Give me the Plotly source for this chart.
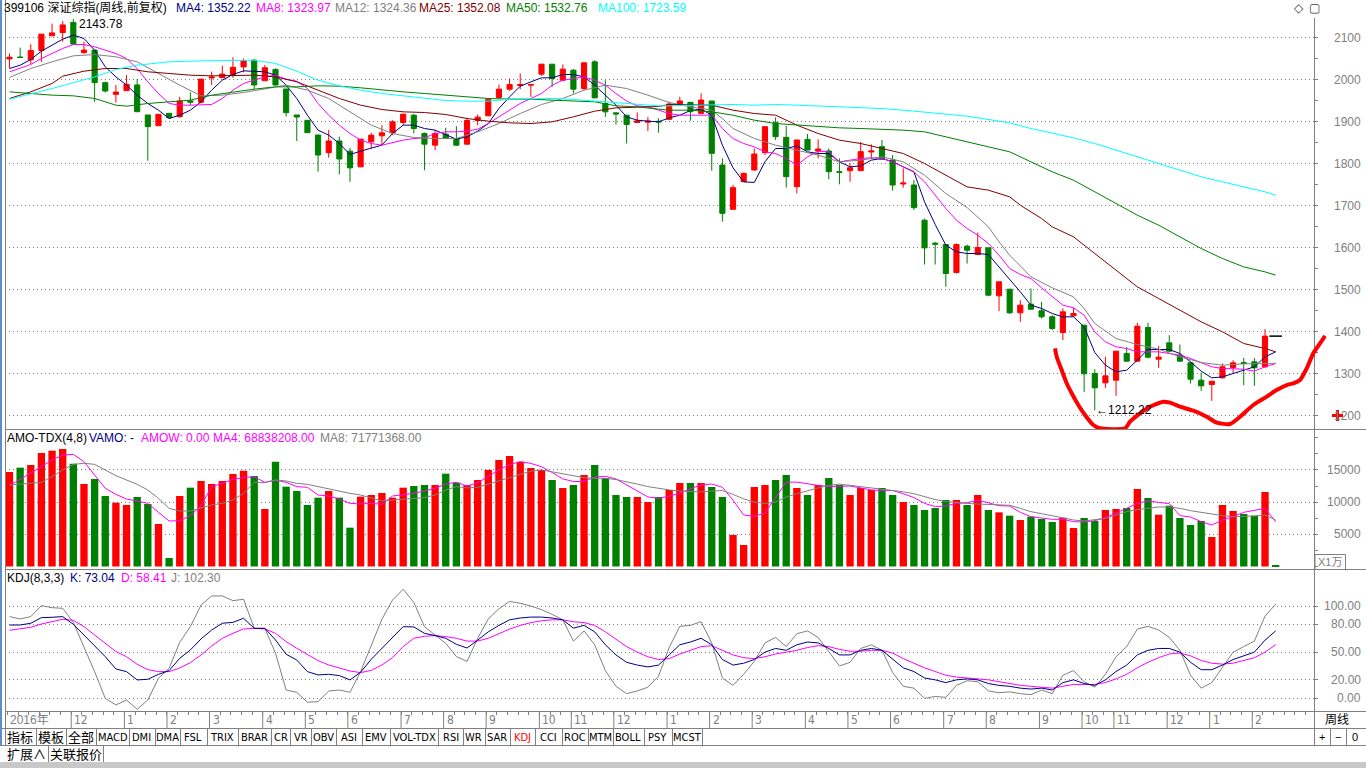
import plotly.graph_objects as go

W, H = 1366, 768
RED, GREEN, NAVY, MAGENTA, GREY, MAROON, CYAN = "#FF0000", "#008000", "#000080", "#FF00FF", "#808080", "#800000", "#00FFFF"

# ---------------- data (weekly, index 0 = mid Oct 2016) ----------------
OPEN = [2049, 2053.5, 2047, 2069, 2104, 2112, 2136, 2064, 2070, 1992.5,
        1964.7, 1973.4, 1987, 1915.5, 1890, 1919.4, 1911.5, 1949, 1946, 2003.6,
        2004.4, 2012, 2030, 2046, 1997, 2024, 1977.4, 1915.5, 1902.8, 1867.9,
        1825.8, 1853.6, 1829.4, 1792, 1851.6, 1865.9, 1873, 1897.6, 1915, 1871.4,
        1843.7, 1869.8, 1859.5, 1846, 1902.4, 1913.5, 1957, 1977, 1985.7, 1986.5,
        2012.7, 2036.5, 1998.4, 2022.2, 1978.6, 2042, 1942.9, 1920.6, 1915, 1897.6,
        1898.4, 1900.5, 1905.2, 1941.7, 1945.6, 1919.4, 1948.8, 1796.4, 1690.9, 1756.7,
        1784.5, 1825.8, 1897.2, 1862.3, 1744.8, 1857.5, 1829.8, 1829.8, 1780.6, 1782.9,
        1782.9, 1827.4, 1840, 1808.3, 1751.2, 1748.8, 1665, 1610.3, 1607.1, 1540.5,
        1603.2, 1583.3, 1599.2, 1484.9, 1500.8, 1444.4, 1465, 1449.2, 1435, 1397.6,
        1437.3, 1415.1, 1300, 1277.8, 1284.1, 1347.6, 1329.4, 1409.5, 1334.1, 1373,
        1343.7, 1325.4, 1284.1, 1273.8, 1289.7, 1314.3, 1326, 1327.8, 1315.9]
HIGH = [2062, 2076, 2084, 2108, 2133, 2139, 2143.78, 2090, 2070, 1995,
        1987, 2010.7, 2001, 1915.5, 1917, 1919.4, 1959, 1969.5, 2001, 2018.7,
        2033, 2052.8, 2050, 2048.8, 2034.5, 2026.6, 1977.4, 1915.5, 1903, 1868,
        1879.8, 1864, 1837, 1858, 1873, 1891.3, 1903, 1917.5, 1918.3, 1873.8,
        1879.4, 1885, 1889, 1908.7, 1916.7, 1954.8, 1988, 2002.4, 2014.3, 1988,
        2036.5, 2036.5, 2035.7, 2024.6, 2042, 2046, 1998.4, 1920.6, 1915, 1921.4,
        1911, 1907.5, 1947.2, 1959, 1945.6, 1967, 1948.8, 1812.3, 1748.8, 1778,
        1836, 1887.7, 1910, 1889.3, 1856, 1870.2, 1857.5, 1836, 1812.3, 1800.4,
        1851.2, 1845.6, 1856, 1820.2, 1788.5, 1760.7, 1669, 1613.5, 1607.1, 1609.5,
        1607, 1635.7, 1599.2, 1518.3, 1500.8, 1474.6, 1502.4, 1470.6, 1438.9, 1454.8,
        1456.3, 1415.1, 1310.3, 1339.7, 1353.2, 1362.7, 1420.6, 1420.6, 1365.1, 1391.3,
        1369, 1327.8, 1302.4, 1281.7, 1323.8, 1331.7, 1337.3, 1337, 1405.6]
LOW = [2027, 2052, 2037, 2042, 2104, 2090, 2083, 2061, 1947, 1969,
       1945, 1973, 1922, 1806.7, 1890, 1907.5, 1909, 1939, 1943, 1987,
       2003, 2004, 2017, 1977, 1997, 1985, 1911.5, 1853.6, 1873, 1780.5,
       1813.9, 1774.2, 1756.3, 1792, 1835.7, 1843.7, 1867.5, 1891.3, 1871.4, 1784,
       1831.7, 1858, 1842, 1846, 1891.3, 1913.5, 1954.8, 1973, 1977, 1958.7,
       2008.7, 1982.5, 1996.8, 1966.7, 1974.6, 1955, 1911, 1892.9, 1847.6, 1897.6,
       1877, 1873.4, 1905, 1939.3, 1902, 1918, 1782.9, 1661.5, 1690.9, 1756.7,
       1783, 1820.2, 1856, 1742.5, 1729, 1832, 1812.3, 1762.3, 1750.4, 1756.7,
       1782.9, 1812.3, 1809.9, 1735.3, 1742.9, 1689.3, 1559.5, 1559.5, 1506.3, 1538,
       1561.9, 1583, 1485, 1448.4, 1442, 1423, 1451.6, 1431, 1403.2, 1379.4,
       1435, 1256.3, 1212.22, 1265.9, 1246.8, 1328, 1328, 1335.7, 1313.5, 1351.6,
       1328, 1276.2, 1258.7, 1234.9, 1288, 1300, 1272.2, 1270.6, 1313.5]
CLOSE = [2053, 2052.5, 2069, 2108, 2111, 2130, 2084.5, 2070, 1992.5, 1972.6,
         1970, 1988.5, 1923.4, 1887.7, 1917, 1909, 1948.8, 1946, 2001, 2006,
         2013, 2029, 2044.8, 1987, 2028, 1987, 1921, 1910.7, 1873.4, 1820.2,
         1853.6, 1810.7, 1789.7, 1858, 1867.5, 1873, 1899.2, 1917.5, 1883.3, 1846,
         1871.4, 1859.5, 1843.7, 1902.4, 1910.3, 1953.2, 1977, 1988, 1988, 1988,
         2036.5, 2002.4, 2024.6, 1977, 2039.7, 1956.3, 1923, 1918, 1893, 1901.6,
         1900.8, 1899, 1941.7, 1948.8, 1923.4, 1951.2, 1824.2, 1681.3, 1742.5, 1776.6,
         1822.6, 1887.7, 1863.9, 1768.7, 1856, 1832.1, 1834.5, 1780.6, 1779, 1790,
         1828.2, 1829.8, 1809.9, 1748.8, 1753.6, 1694.8, 1599.2, 1608, 1538.1, 1607.1,
         1593.7, 1600, 1486.5, 1518.3, 1444.4, 1462.7, 1453.2, 1435, 1407.1, 1446.8,
         1442.9, 1299.2, 1265.9, 1294.4, 1353.2, 1329.4, 1412.7, 1338.9, 1338.9, 1353.2,
         1329.4, 1286.5, 1270.6, 1281.7, 1315.9, 1325.4, 1323.8, 1313.5, 1389]
WEEKS = list(range(len(OPEN)))
CUR_WEEK = [119]          # current (untraded) week
CUR_PRICE = [1389]
ALL_WEEKS = WEEKS + CUR_WEEK

MA4 = [2026.2, 2034.1, 2047.6, 2067.5, 2081.7, 2096, 2105.6, 2097.6, 2069.8, 2030.2,
       2006.3, 1986.5, 1962.7, 1942.9, 1927, 1907.1, 1915, 1927, 1946.8, 1974.6,
       1998.4, 2011.9, 2020.6, 2019.8, 2018.3, 2010.3, 1986.5, 1954.8, 1915, 1879.4,
       1867.5, 1847.6, 1821.4, 1829.4, 1837.3, 1843.7, 1871.4, 1891.3, 1891.3, 1883.3,
       1879.4, 1869, 1857.9, 1863.5, 1877, 1895.2, 1931, 1958.7, 1984.1, 1994.4,
       2004, 2004, 2011.9, 2011.9, 2006.3, 1986.5, 1962.7, 1938.9, 1911.1, 1903.2,
       1900.8, 1899.2, 1908.7, 1915, 1926.2, 1929.4, 1915, 1843.7, 1789.7, 1756.3,
       1754.8, 1804, 1835.7, 1835.7, 1842, 1827.8, 1823.8, 1823.8, 1804, 1792.1,
       1794.4, 1808, 1812, 1804, 1792, 1780.2, 1708.7, 1654.8, 1605.6, 1589.7,
       1585.7, 1585.7, 1583.3, 1554, 1526.2, 1494.4, 1462.7, 1454.8, 1442.9, 1434.9,
       1434.9, 1411.1, 1350, 1319.8, 1304, 1307.9, 1331.7, 1357.1, 1357.1, 1357.1,
       1347.6, 1327.8, 1305.6, 1289.7, 1292, 1300, 1307.9, 1315.9, 1339.7, 1351.6]
MA8 = [2018.3, 2026.2, 2035.7, 2050, 2061.9, 2073.8, 2083.3, 2083.3, 2077.8, 2069.8,
       2061.9, 2050, 2026.2, 1994.4, 1966.7, 1942.9, 1938.9, 1938.9, 1938.9, 1940.5,
       1954.8, 1974.6, 1990.5, 1998.4, 2006.3, 2010.3, 2000.8, 1996, 1978.6, 1942.9,
       1915, 1891.3, 1871.4, 1855.6, 1847.6, 1843.7, 1850, 1855.6, 1859.5, 1861.1,
       1871.4, 1875.4, 1875.4, 1877, 1881.7, 1895.2, 1911.1, 1927, 1942.9, 1954.8,
       1966.7, 1986.5, 1998.4, 2002.4, 2006.3, 1998.4, 1986.5, 1966.7, 1948.4, 1937.3,
       1934.9, 1927, 1919, 1915, 1915, 1915, 1915, 1883.3, 1859.5, 1847.6,
       1839.7, 1827.8, 1823.8, 1811.9, 1796, 1815.9, 1829.4, 1827.8, 1804, 1808,
       1811.9, 1813.5, 1811.9, 1804, 1792.1, 1780.2, 1756.3, 1724.6, 1692.9, 1665.1,
       1645.2, 1629.4, 1609.5, 1581.7, 1550, 1535.7, 1526.2, 1504, 1482.5, 1462.7,
       1456.3, 1438.9, 1399.2, 1375.4, 1363.5, 1359.5, 1351.6, 1351.6, 1351.6, 1347.6,
       1343.7, 1335.7, 1325.4, 1315.9, 1312, 1312, 1310.3, 1305.6, 1315.9, 1323.8]
MA12_X = [0, 2, 4, 6, 8, 10, 12, 14, 16, 18, 20, 22, 24, 26, 28, 30, 32, 34, 36, 38, 40, 42, 44, 46, 48, 50,
          52, 54, 56, 58, 60, 62, 64, 66, 67, 68, 70, 72, 74, 76, 78, 80, 82, 84, 86, 88, 90, 92, 93, 94,
          96, 98, 100, 101, 102, 104, 106, 108, 110, 112, 114, 116, 118, 119]
MA12_Y = [2004.8, 2026.2, 2042.1, 2056.3, 2059.5, 2054, 2042.1, 2014.3, 1986.5, 1961.1, 1962.7, 1969, 1978.6,
          1986.5, 1974.6, 1954.8, 1923, 1891.3, 1871.4, 1861.9, 1859.5, 1859.5, 1875.4, 1895.2, 1919, 1940.5,
          1954.8, 1974.6, 1986.5, 1978.6, 1962.7, 1945.2, 1934.9, 1927, 1907.1, 1883.3, 1859.5, 1843.7, 1831.7,
          1819.8, 1804, 1808, 1815.9, 1804, 1772.2, 1728.6, 1695.2, 1649.2, 1613.5, 1581.7, 1530.2, 1504,
          1482.5, 1454.8, 1419, 1383.3, 1369, 1357.9, 1339.7, 1326.2, 1319.8, 1323, 1323.8, 1324.4]
MA25_X = [0, 2, 4, 5, 7, 9, 11, 13, 15, 17, 19, 21, 23, 25, 27, 29, 31, 33, 35, 37, 39, 41, 43, 45, 47, 49,
          51, 53, 55, 57, 59, 61, 62, 64, 66, 68, 70, 72, 74, 76, 78, 80, 82, 84, 86, 88, 90, 92, 94, 95,
          97, 98, 100, 102, 104, 106, 108, 110, 112, 114, 116, 118, 119]
MA25_Y = [1954.8, 1970.6, 1990.5, 2007.9, 2019.8, 2026.2, 2026.2, 2018.3, 2014.3, 2010.3, 2008.7, 2010.3,
          2010.3, 2006.3, 1994.4, 1974.6, 1954.8, 1938.9, 1928.6, 1923, 1921.4, 1916.7, 1907.1, 1900.8,
          1896.8, 1895.2, 1899.2, 1911.1, 1924.6, 1932.5, 1934.9, 1935.7, 1940.5, 1940.5, 1938.9, 1927,
          1919, 1915, 1891.3, 1871.4, 1855.6, 1847.6, 1835.7, 1823.8, 1800, 1772.2, 1744.4, 1736.5, 1720.6,
          1700.8, 1669, 1649.2, 1625.4, 1585.7, 1546, 1506.3, 1478.6, 1450.8, 1423, 1399.2, 1371.4, 1359.5,
          1351.6]
MA50_X = [0, 2, 4, 6, 8, 10, 11, 13, 15, 17, 19, 21, 23, 25, 27, 29, 31, 33, 35, 37, 39, 41, 43, 45, 47, 49,
          51, 53, 55, 57, 59, 61, 62, 64, 66, 68, 70, 72, 74, 76, 78, 80, 82, 84, 86, 88, 90, 92, 94, 96,
          98, 100, 102, 104, 106, 108, 110, 112, 114, 116, 118, 119]
MA50_Y = [1970.6, 1966.7, 1962.7, 1961.1, 1954.8, 1938.9, 1936.5, 1942.9, 1946.8, 1950.8, 1962.7, 1970.6,
          1977, 1982.5, 1982.5, 1984.9, 1984.1, 1980.2, 1974.6, 1970.6, 1966.7, 1962.7, 1958.7, 1954.8,
          1953.2, 1953.2, 1950.8, 1949.2, 1946.8, 1937.3, 1934.9, 1929.4, 1927, 1927, 1923, 1915, 1903.2,
          1895.2, 1891.3, 1887.3, 1884.9, 1883.3, 1881.7, 1879.4, 1875.4, 1863.5, 1851.6, 1839.7, 1827.8,
          1804, 1780.2, 1760.3, 1732.5, 1704.8, 1677, 1653.2, 1625.4, 1597.6, 1573.8, 1553.8, 1542, 1534.1]
MA100_X = [0, 4, 8, 10, 12, 15, 18, 21, 23, 25, 27, 29, 31, 33, 35, 37, 39, 41, 43, 45, 47, 49, 51, 53, 55,
           57, 59, 61, 62, 64, 66, 68, 70, 72, 74, 76, 78, 80, 82, 84, 86, 88, 90, 92, 94, 96, 98, 100, 102,
           104, 106, 108, 110, 112, 114, 116, 118, 119]
MA100_Y = [1953.2, 1978.6, 2006.3, 2023.8, 2034.1, 2042.1, 2044.4, 2046, 2046, 2038.1, 2019.8, 1998.4,
           1984.9, 1974.6, 1966.7, 1961.1, 1954.8, 1950, 1948.4, 1948.4, 1953.2, 1954.8, 1954.8, 1952.4,
           1948.4, 1944.4, 1940.5, 1937.3, 1937.3, 1938.9, 1940.5, 1940.5, 1938.9, 1940.5, 1938.9, 1937.3,
           1934.9, 1933.3, 1930.9, 1927, 1923, 1917.5, 1912.7, 1905.6, 1896.8, 1883.3, 1873, 1861.1, 1847.6,
           1831.7, 1815.9, 1800, 1784.1, 1768.3, 1756.3, 1744.4, 1732.5, 1724.6]

# amount (x1万), index 0..119
VOLUME = [14674, 15347, 15761, 17624, 17987, 18246, 15968, 12811, 13587, 10947,
          9912, 9550, 10792, 9705, 6600, 1320, 10947, 12241, 13276, 12811,
          13276, 14363, 14881, 14053, 8929, 16279, 12397, 11724, 9550, 10688,
          11724, 10688, 6030, 10843, 11102, 11413, 10688, 12241, 12500, 12655,
          12655, 14415, 13018, 12660, 13430, 15000, 16540, 17160, 16230, 15300,
          15000, 13430, 12190, 12660, 14210, 15760, 13740, 11100, 10790, 10790,
          10020, 10790, 11880, 12970, 12970, 12970, 12350, 10790, 4890, 3340,
          12350, 12660, 13430, 14210, 12190, 11100, 12660, 13740, 12660, 11100,
          12190, 11880, 12190, 11100, 10020, 9550, 8770, 9080, 10330, 10330,
          9550, 11100, 8770, 8411, 7893, 7220, 7738, 7376, 6910, 7583,
          5978, 7531, 7065, 8773, 8929, 9084, 12034, 10636, 8049, 9446,
          7531, 6444, 7065, 4581, 9550, 8618, 8152, 7893, 11568, 100]
VOL_MA4 = [12552, 13500, 14467, 15502, 16537, 17313, 17417, 16279, 14208, 12138,
           11206, 10481, 10171, 9809, 8411, 7066, 7117, 7893, 9446, 12397,
           12914, 13535, 13794, 13949, 13069, 13432, 13069, 12397, 12293, 11102,
           10947, 10481, 9809, 9705, 9809, 9654, 10947, 11102, 11361, 11724,
           12138, 12811, 13069, 12500, 13000, 14000, 15000, 15800, 16300, 16000,
           15500, 14600, 13600, 13200, 13200, 13900, 14000, 13600, 12700, 11700,
           10800, 10600, 10900, 11400, 12100, 12700, 12800, 12300, 10300, 8000,
           7800, 8300, 10700, 13100, 13100, 12800, 12600, 12400, 12500, 12500,
           12200, 11900, 11800, 11800, 11300, 10700, 9800, 9300, 9400, 9800,
           9900, 10300, 9900, 9446, 9394, 8411, 7738, 7479, 7324, 7324,
           6962, 6910, 7117, 7583, 8256, 9032, 9808, 10170, 9964, 9757,
           7893, 7686, 6962, 6444, 7220, 7738, 8411, 8773, 9032, 6962]
VOL_MA8 = [12655, 12811, 12914, 13069, 13949, 14984, 15864, 16020, 15864, 14984,
           14104, 13432, 12759, 11879, 10585, 9032, 8618, 8618, 9136, 9550,
           9809, 10326, 11361, 13069, 13018, 13432, 13276, 12914, 12759, 12397,
           12035, 11620, 11361, 11102, 10585, 10171, 10326, 10481, 10585, 10688,
           11102, 11879, 12397, 12200, 12300, 12800, 13300, 13800, 14300, 14800,
           15000, 14700, 14300, 14000, 13800, 13700, 13700, 13500, 13200, 12800,
           12400, 12100, 11900, 11700, 11600, 11600, 11700, 11800, 11200, 10500,
           10000, 9800, 10000, 10800, 11300, 11800, 12200, 12600, 12800, 12600,
           12400, 12200, 12000, 11900, 11600, 11300, 10800, 10400, 10100, 9900,
           9800, 9700, 9600, 9550, 9498, 9032, 8515, 8204, 7893, 7479,
           7220, 7065, 7272, 7479, 7997, 8515, 8825, 9084, 9239, 9239,
           9032, 8670, 8411, 8101, 7893, 7738, 7738, 7841, 7997, 7220]

K = [79.4, 79.4, 81.3, 87.4, 87.8, 88.5, 80.2, 68.6, 57.8, 45.1, 31.8, 28.9, 19.9, 20.6, 26, 30, 43.3, 52.4,
     64.3, 74, 81.3, 82.3, 86.7, 75.8, 75.8, 63.2, 47.7, 41.5, 28.9, 25.3, 26, 24.6, 19.9, 28.2, 42.3, 54.2,
     66.8, 77.6, 77.3, 70.4, 67.9, 65, 58.5,
     54.5, 63, 72, 79, 85, 87, 88, 88, 87, 85, 76, 79, 72, 58, 47, 39, 36, 34, 36, 47, 58, 61, 65, 58, 42, 36,
     38, 42, 50, 54, 52, 58, 61, 60, 54, 47, 47, 52, 54, 52, 42, 33, 29, 22, 20, 17, 20, 21, 20, 16, 14, 13, 11,
     10, 11, 9, 17, 20, 16, 14, 20, 29, 36, 47, 52, 54, 54, 50, 39, 31, 31, 36, 42, 46, 50, 63, 73]
D = [73.7, 75.1, 76.9, 80.5, 83.1, 85.6, 84.5, 77.6, 68.6, 59.2, 50.6, 45.1, 36.8, 31.1, 28.9, 28.9, 32.9,
     38.6, 46.9, 56.7, 65, 70.4, 75.1, 75.8, 75.1, 70.4, 61.4, 54.2, 47.7, 40.8, 36.1, 33.2, 29.6, 27.8, 30.3,
     36.1, 44.1, 56, 65, 67.2, 67.9, 66.8, 65,
     62, 62, 65, 70, 75, 79, 82, 84, 85, 85, 83, 82, 79, 72, 64, 56, 50, 45, 42, 43, 48, 52, 56, 57, 52, 47, 44,
     43, 45, 48, 50, 52, 55, 57, 56, 53, 51, 51, 52, 52, 49, 43, 38, 33, 29, 25, 23, 22, 21, 20, 18, 16, 14, 13,
     12, 11, 13, 15, 15, 15, 17, 21, 26, 33, 39, 44, 48, 49, 46, 41, 38, 37, 38, 41, 44, 50, 58]
J = [88.5, 86, 88.5, 100.4, 98.2, 97.5, 82.3, 56, 28.9, 0, -7.2, -1.8, -11.9, -1.8, 21.7, 32.5, 60.7, 77.6,
     101, 110.9, 110.9, 105.8, 107.3, 75.8, 75.8, 48.8, 9, 6.5, -4.3, -3.6, 7.9, 9, 6.5, 28.9, 57.8, 85.6,
     106.5, 118.1, 104, 77.6, 68.6, 59.6, 45.1,
     40, 65, 86, 97, 105, 103, 100, 96, 91, 85, 62, 73, 58, 30, 13, 5, 8, 12, 24, 55, 78, 79, 83, 60, 22, 14,
     26, 40, 60, 66, 56, 70, 73, 66, 50, 35, 39, 54, 58, 52, 28, 13, 11, 0, 2, 1, 14, 19, 18, 8, 6, 7, 5, 4, 9,
     5, 25, 30, 18, 12, 26, 45, 56, 75, 78, 74, 66, 52, 25, 11, 17, 34, 50, 56, 62, 89, 102]

# hand-drawn red mark (week index, price)
CURVE_X = [98.26, 98.42, 98.89, 99.36, 99.83, 100.45, 101.08, 101.86, 102.49, 104.84, 105.31, 106.25, 107.19,
           108.44, 109.07, 110.01, 111.26, 112.52, 113.46, 114.71, 115.65, 116.9, 118.16, 119.09, 120.04,
           120.66, 121.29, 121.92, 122.54, 123.17, 123.64]
CURVE_Y = [1360, 1340, 1308.3, 1276.7, 1252.9, 1225, 1201.2, 1177.4, 1169.5, 1169.5, 1185.2, 1205.2, 1220.9,
           1232.9, 1230.5, 1220.9, 1211.4, 1197.1, 1182.9, 1179.8, 1197.1, 1225, 1244.8, 1260.7, 1272.6,
           1276.7, 1284.5, 1312.4, 1348.1, 1372, 1389.3]

PRICE_TICKS = [1200, 1300, 1400, 1500, 1600, 1700, 1800, 1900, 2000, 2100]
VOL_TICKS = [5000, 10000, 15000]
KDJ_TICKS = [0, 20, 50, 80, 100]
MONTH_WEEKS = [6, 11, 15, 19, 24, 28, 32, 37, 41, 45, 50, 53, 57, 62, 66, 70, 75, 79, 83, 88, 92, 97, 101, 104,
               109, 113, 117]
MONTH_NAMES = ["12", "1", "2", "3", "4", "5", "6", "7", "8", "9", "10", "11", "12", "1", "2", "3", "4", "5",
               "6", "7", "8", "9", "10", "11", "12", "1", "2"]
HIGH_LABEL = (6, 2143.78)
LOW_LABEL = (102, 1212.22)

# ---------------- geometry (pixel layout of the window) ----------------
X_PX0, X_STEP = 9.5, 10.64
L_PX, R_PX = 5, 1314
MAIN_T, MAIN_B = 18, 429
VOL_T, VOL_B = 429, 569
KDJ_T, KDJ_B = 569, 711


def wx(px):
    return (px - X_PX0) / X_STEP


def fx(px):
    return px / W


def fy(py):
    return 1 - py / H


def price_at(py):
    return 2100 - (py - 37.5) / 0.42


def vol_at(py):
    return (566.5 - py) * 5000 / 32.2


def kdj_at(py):
    return (698.3 - py) / 0.923


SANS = "Liberation Sans, Arial, sans-serif"
CJK = "Liberation Sans, Noto Sans CJK SC, sans-serif"
NARROW = "Liberation Sans Narrow, DejaVu Sans Condensed, Liberation Sans, sans-serif"

fig = go.Figure()

# ---- main panel ----
fig.add_trace(go.Candlestick(
    x=WEEKS, open=OPEN, high=HIGH, low=LOW, close=CLOSE, whiskerwidth=0,
    increasing=dict(line=dict(color=RED, width=1), fillcolor=RED),
    decreasing=dict(line=dict(color=GREEN, width=1), fillcolor=GREEN),
    xaxis="x", yaxis="y", hoverinfo="skip", showlegend=False))
for xs, ys, col in [(ALL_WEEKS, MA4, NAVY), (ALL_WEEKS, MA8, MAGENTA), (MA12_X, MA12_Y, GREY),
                    (MA25_X, MA25_Y, MAROON), (MA50_X, MA50_Y, GREEN), (MA100_X, MA100_Y, CYAN)]:
    fig.add_trace(go.Scatter(x=xs, y=ys, mode="lines", line=dict(color=col, width=1),
                             xaxis="x", yaxis="y", hoverinfo="skip", showlegend=False))
fig.add_trace(go.Scatter(x=CUR_WEEK, y=CUR_PRICE, mode="markers",
                         marker=dict(symbol="line-ew", size=9, line=dict(color="black", width=1.5)),
                         xaxis="x", yaxis="y", hoverinfo="skip", showlegend=False))
fig.add_trace(go.Scatter(x=CURVE_X, y=CURVE_Y, mode="lines",
                         line=dict(color=RED, width=4, shape="spline", smoothing=0.6),
                         xaxis="x4", yaxis="y4", hoverinfo="skip", showlegend=False))

# ---- amount panel ----
vol_colors = [RED if c > o else GREEN for o, c in zip(OPEN, CLOSE)] + [GREEN]
fig.add_trace(go.Bar(x=ALL_WEEKS, y=VOLUME, width=0.69, marker=dict(color=vol_colors, line=dict(width=0)),
                     xaxis="x2", yaxis="y2", hoverinfo="skip", showlegend=False))
for ys, col in [(VOL_MA4, MAGENTA), (VOL_MA8, GREY)]:
    fig.add_trace(go.Scatter(x=ALL_WEEKS, y=ys, mode="lines", line=dict(color=col, width=1),
                             xaxis="x2", yaxis="y2", hoverinfo="skip", showlegend=False))

# ---- KDJ panel ----
for ys, col in [(J, GREY), (D, MAGENTA), (K, NAVY)]:
    fig.add_trace(go.Scatter(x=ALL_WEEKS, y=ys, mode="lines", line=dict(color=col, width=1),
                             xaxis="x3", yaxis="y3", hoverinfo="skip", showlegend=False))

xdom = [fx(L_PX), fx(R_PX)]
xrng = [wx(L_PX), wx(R_PX)]
hidden_x = dict(showgrid=False, zeroline=False, showticklabels=False, ticks="", showline=False, fixedrange=True)
grid = dict(showgrid=True, gridcolor=GREY, griddash="1px,3px", gridwidth=1, zeroline=False,
            showticklabels=False, side="right", ticks="outside", ticklen=3, tickcolor=GREY,
            showline=True, linecolor=GREY, linewidth=1, fixedrange=True, tickmode="array")

fig.update_layout(
    width=W, height=H, autosize=False, margin=dict(l=0, r=0, t=0, b=0),
    paper_bgcolor="white", plot_bgcolor="rgba(0,0,0,0)", showlegend=False, boxgap=0.31,
    xaxis=dict(domain=xdom, range=xrng, anchor="y", rangeslider=dict(visible=False), **hidden_x),
    xaxis2=dict(domain=xdom, range=xrng, anchor="y2", **hidden_x),
    xaxis3=dict(domain=xdom, range=xrng, anchor="y3", showgrid=False, zeroline=False, showticklabels=False,
                ticks="outside", ticklen=3, tickcolor=GREY, tickmode="linear", tick0=-0.2, dtick=1,
                showline=False, fixedrange=True),
    xaxis4=dict(domain=[fx(L_PX), fx(1334)], range=[wx(L_PX), wx(1334)], anchor="y4", visible=False),
    yaxis=dict(domain=[fy(MAIN_B), fy(MAIN_T)], range=[price_at(MAIN_B), price_at(MAIN_T)], anchor="x",
               tickvals=PRICE_TICKS,
               minor=dict(tickmode="linear", tick0=1150, dtick=50, ticks="outside", ticklen=3,
                          tickcolor=GREY, showgrid=False), **grid),
    yaxis4=dict(domain=[fy(MAIN_B), fy(MAIN_T)], range=[price_at(MAIN_B), price_at(MAIN_T)], anchor="x4",
                visible=False),
    yaxis2=dict(domain=[fy(VOL_B), fy(VOL_T)], range=[vol_at(VOL_B), vol_at(VOL_T)], anchor="x2",
                tickvals=VOL_TICKS,
                minor=dict(tickmode="linear", tick0=0, dtick=2500, ticks="outside", ticklen=3,
                           tickcolor=GREY, showgrid=False), **grid),
    yaxis3=dict(domain=[fy(KDJ_B), fy(KDJ_T)], range=[kdj_at(KDJ_B), kdj_at(KDJ_T)], anchor="x3",
                tickvals=KDJ_TICKS, **grid),
)

shapes = []
ann = []


def line_px(x0, y0, x1, y1, color=GREY, width=1):
    shapes.append(dict(type="line", xref="paper", yref="paper", x0=fx(x0), y0=fy(y0), x1=fx(x1), y1=fy(y1),
                       line=dict(color=color, width=width), layer="above"))


def text_px(x, y, s, color="black", size=12, family=SANS, anchor="left"):
    ann.append(dict(xref="paper", yref="paper", x=fx(x), y=fy(y), text=s, showarrow=False,
                    xanchor=anchor, yanchor="middle", font=dict(color=color, size=size, family=family)))


# frame lines
line_px(L_PX, VOL_T + 0.5, W, VOL_T + 0.5)
line_px(L_PX, VOL_B + 0.5, W, VOL_B + 0.5)
line_px(L_PX, KDJ_B + 0.5, W, KDJ_B + 0.5)
line_px(0, 728.5, W, 728.5)
line_px(0, 745.5, W, 745.5)
line_px(R_PX + 0.5, 711, R_PX + 0.5, 745)
line_px(L_PX + 0.5, 0, L_PX + 0.5, 728)
line_px(1, 0, 1, 745, color="#5B8FD0", width=2)
shapes.append(dict(type="rect", xref="paper", yref="paper", x0=0, x1=1, y0=0, y1=fy(762),
                   fillcolor="#C8C8C8", line=dict(width=0)))

# title rows
text_px(2, 8, "399106 深证综指(周线,前复权)", family=CJK)
for x, s, col in [(174, "MA4: 1352.22", NAVY), (254, "MA8: 1323.97", MAGENTA), (333, "MA12: 1324.36", GREY),
                  (417, "MA25: 1352.08", MAROON), (504, "MA50: 1532.76", GREEN), (596, "MA100: 1723.59", CYAN)]:
    text_px(x, 8, s, col)
text_px(1292, 8, "◇", "#404040", 12)
text_px(1307, 8, "▢", "#404040", 12)
for x, s, col in [(5, "AMO-TDX(4,8)", "black"), (87, "VAMO: -", NAVY), (139, "AMOW: 0.00", MAGENTA),
                  (211, "MA4: 68838208.00", MAGENTA), (318, "MA8: 71771368.00", GREY)]:
    text_px(x, 437.5, s, col)
for x, s, col in [(5, "KDJ(8,3,3)", "black"), (68, "K: 73.04", NAVY), (119, "D: 58.41", MAGENTA),
                  (169, "J: 102.30", GREY)]:
    text_px(x, 577.5, s, col)

# right-hand tick labels
for v in PRICE_TICKS:
    ann.append(dict(xref="paper", yref="y", x=fx(1363), y=v, text=str(v), showarrow=False, xanchor="right",
                    yanchor="middle", font=dict(color=GREY, size=12, family=SANS)))
for v in VOL_TICKS:
    ann.append(dict(xref="paper", yref="y2", x=fx(1363), y=v, text=str(v), showarrow=False, xanchor="right",
                    yanchor="middle", font=dict(color=GREY, size=12, family=SANS)))
for v in KDJ_TICKS:
    ann.append(dict(xref="paper", yref="y3", x=fx(1363), y=v, text="%.2f" % v, showarrow=False,
                    xanchor="right", yanchor="middle", font=dict(color=GREY, size=12, family=SANS)))
shapes.append(dict(type="rect", xref="paper", yref="paper", x0=fx(1315), x1=fx(1345.5), y0=fy(569.5),
                   y1=fy(554.5), line=dict(color=GREY, width=1)))
text_px(1330, 562, "X1万", GREY, 11, CJK, "center")
# red cross marker at the right axis (drawn as two strokes)
line_px(1332, 415.5, 1343, 415.5, color=RED, width=3)
line_px(1337.5, 410, 1337.5, 421, color=RED, width=3)

# high / low labels
ann.append(dict(xref="x", yref="paper", x=HIGH_LABEL[0], y=fy(24), text="%.2f" % HIGH_LABEL[1],
                showarrow=False, xanchor="left", yanchor="middle", xshift=4,
                font=dict(color="black", size=12, family=SANS)))
ann.append(dict(xref="x", yref="y", x=LOW_LABEL[0], y=LOW_LABEL[1], text="←%.2f" % LOW_LABEL[1],
                showarrow=False, xanchor="left", yanchor="middle", xshift=-1,
                font=dict(color="black", size=12, family=SANS)))

# month axis row
text_px(8, 720, "2016年", GREY, 12, CJK)
for w, name in zip(MONTH_WEEKS, MONTH_NAMES):
    shapes.append(dict(type="line", xref="x3", yref="paper", x0=w - 0.2, x1=w - 0.2, y0=fy(711.5), y1=fy(728),
                       line=dict(color=GREY, width=1)))
    ann.append(dict(xref="x3", yref="paper", x=w - 0.2, y=fy(720), text=name, showarrow=False,
                    xanchor="left", yanchor="middle", xshift=1,
                    font=dict(color=GREY, size=12, family=NARROW)))
text_px(1337, 720, "周线", "black", 12, CJK, "center")

# tab bar
TAB_SEPS = [4.6, 35.8, 65.7, 96.4, 128.6, 155.2, 180, 206.6, 237.8, 270.9, 290.2, 311.3, 336, 361.8, 390.3,
            438.5, 462.8, 484.8, 509.6, 534.9, 562.5, 587.7, 612.9, 643.7, 671.7, 702.5]
TABS = ["指标", "模板", "全部", "MACD", "DMI", "DMA", "FSL", "TRIX", "BRAR", "CR", "VR", "OBV", "ASI", "EMV",
        "VOL-TDX", "RSI", "WR", "SAR", "KDJ", "CCI", "ROC", "MTM", "BOLL", "PSY", "MCST"]
for i, t in enumerate(TABS):
    cx = (TAB_SEPS[i] + TAB_SEPS[i + 1]) / 2
    cjk = i < 3
    text_px(cx, 737, t, RED if t == "KDJ" else "black", 13 if cjk else 11, CJK if cjk else NARROW, "center")
for s in TAB_SEPS:
    line_px(round(s) + 0.5, 728, round(s) + 0.5, 745)
for x in [1330.5, 1346.5]:
    line_px(x, 728, x, 745)
for x, s in [(1322, "+"), (1338, "−"), (1355, "0")]:
    text_px(x, 737, s, "black", 11, SANS, "center")
text_px(26, 754, "扩展∧", "black", 13, CJK, "center")
text_px(76, 754, "关联报价", "black", 13, CJK, "center")
for x in [48.5, 103.5]:
    line_px(x, 745, x, 762)

fig.update_layout(shapes=shapes, annotations=ann)
fig.write_html("out.html", config={"displayModeBar": False}, post_script="document.body.style.margin='0';")
